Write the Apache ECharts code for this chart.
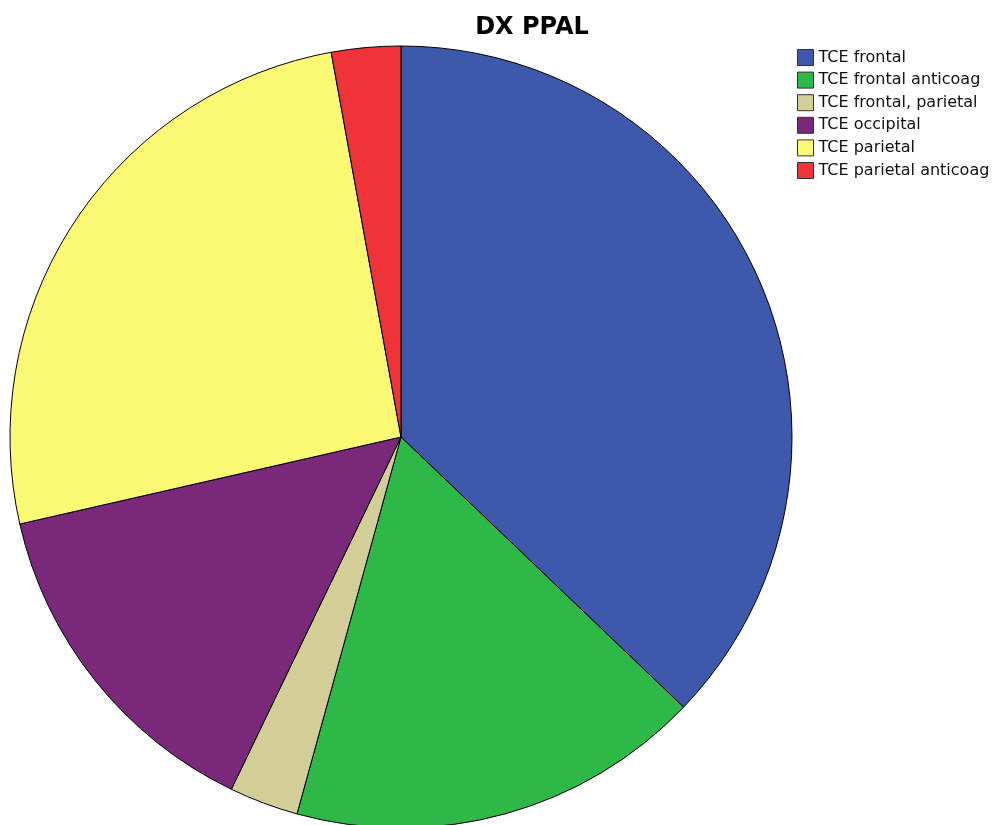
<!DOCTYPE html>
<html>
<head>
<meta charset="utf-8">
<style>
  html, body { margin: 0; padding: 0; background: #fff; }
  #chart { width: 992px; height: 825px; }
</style>
<script src="https://cdn.jsdelivr.net/npm/echarts@6/dist/echarts.min.js"></script>
</head>
<body>
<div id="chart"></div>
<script>
// Diagnosis categories and case counts
const categories = [
  'TCE frontal',
  'TCE frontal anticoag',
  'TCE frontal, parietal',
  'TCE occipital',
  'TCE parietal',
  'TCE parietal anticoag'
];
const counts = [13, 6, 1, 5, 9, 1];
const colors = ['#3E58AC', '#2EB848', '#D3CE97', '#7A287A', '#FBF873', '#EF3338'];

const chart = echarts.init(document.getElementById('chart'), null, { renderer: 'canvas' });

chart.setOption({
  animation: false,
  backgroundColor: '#ffffff',
  title: {
    text: 'DX PPAL',
    left: 527,
    top: 11,
    textAlign: 'center',
    textStyle: {
      fontFamily: 'DejaVu Sans, sans-serif',
      fontWeight: 'bold',
      fontSize: 24,
      color: '#000'
    }
  },
  legend: {
    orient: 'vertical',
    left: 797,
    top: 49,
    padding: 0,
    itemWidth: 16,
    itemHeight: 16,
    itemGap: 5.6,
    icon: 'rect',
    data: categories,
    textStyle: {
      fontFamily: 'DejaVu Sans, sans-serif',
      fontSize: 16,
      lineHeight: 14,
      color: '#111',
      padding: [2, 0, 0, 0]
    },
    itemStyle: { borderColor: '#333', borderWidth: 1 }
  },
  series: [{
    type: 'pie',
    center: [401, 437],
    radius: [0, 391],
    startAngle: 90,
    clockwise: true,
    label: { show: false },
    labelLine: { show: false },
    emphasis: { disabled: true },
    itemStyle: { borderColor: '#000', borderWidth: 1 },
    data: categories.map((name, i) => ({
      name,
      value: counts[i],
      itemStyle: { color: colors[i] }
    }))
  }]
});
</script>
</body>
</html>
